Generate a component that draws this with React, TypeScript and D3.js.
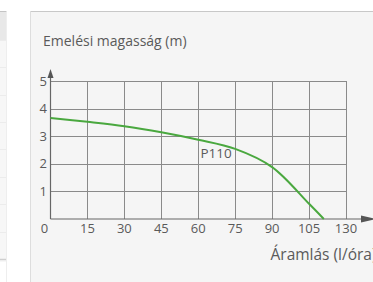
import React from "react";
import * as d3 from "d3";

const xTickValues = [0, 15, 30, 45, 60, 75, 90, 105, 120];
const xTickLabels = ["0", "15", "30", "45", "60", "75", "90", "105", "130"];
const yTickValues = [1, 2, 3, 4, 5];
const yTickLabels = ["1", "2", "3", "4", "5"];
const flow = [0, 15, 30, 45, 60, 75, 90, 105, 111];
const head = [3.66, 3.52, 3.36, 3.14, 2.87, 2.54, 1.88, 0.55, 0];
const seriesName = "P110";
const yTitle = "Emelési magasság (m)";
const xTitle = "Áramlás (l/óra)";
const stripRows = [40, 67, 95, 122, 149, 177, 204, 232];

const W = 373;
const H = 282;
const FONT = "'Open Sans', 'DejaVu Sans', sans-serif";

export default function App() {
  const x = d3.scaleLinear().domain([0, 120]).range([50.5, 346]);
  const y = d3.scaleLinear().domain([0, 5]).range([219, 81]);
  const pts = flow.map((f, i) => [f, head[i]] as [number, number]);
  const line = d3
    .line<[number, number]>()
    .x((d) => x(d[0]))
    .y((d) => y(d[1]))
    .curve(d3.curveCatmullRom.alpha(0.5));
  const gridColor = "#8a8a8a";
  const axisColor = "#666";
  const textColor = "#5a5a5a";
  const x0 = x(0);
  const y0 = y(0);
  return (
    <svg
      width={W}
      height={H}
      style={{ position: "absolute", left: 0, top: 0, display: "block" }}
    >
      <rect x={0} y={0} width={W} height={H} fill="#ffffff" />
      {/* left strip (background table) */}
      <rect x={0} y={12} width={6.5} height={250} fill="#f7f7f7" />
      <rect x={0} y={12} width={6.5} height={28} fill="#e8e8e8" />
      <line x1={0} x2={6.5} y1={11.5} y2={11.5} stroke="#c4c4c4" />
      {stripRows.map((r) => (
        <line key={r} x1={0} x2={6.5} y1={r + 0.5} y2={r + 0.5} stroke="#ececec" />
      ))}
      <line x1={0} x2={6.5} y1={259.5} y2={259.5} stroke="#cfcfcf" strokeWidth={1.5} />
      <line x1={6.5} x2={6.5} y1={12} y2={282} stroke="#eeeeee" />
      {/* panel */}
      <rect x={30} y={11} width={W} height={H} fill="#f5f5f5" />
      <line x1={30} x2={W} y1={11.5} y2={11.5} stroke="#c8c8c8" strokeWidth={1.2} />
      <line x1={30.5} x2={30.5} y1={11} y2={H} stroke="#dddddd" />
      {/* title */}
      <text x={43} y={46} fontFamily={FONT} fontSize={14} fill={textColor}>
        {yTitle}
      </text>
      {/* grid */}
      {xTickValues.slice(1).map((v) => (
        <line
          key={"gx" + v}
          x1={Math.round(x(v)) + 0.5}
          x2={Math.round(x(v)) + 0.5}
          y1={y(5)}
          y2={y0}
          stroke={gridColor}
          strokeWidth={1}
        />
      ))}
      {yTickValues.map((v) => (
        <line
          key={"gy" + v}
          x1={x0}
          x2={x(120)}
          y1={Math.round(y(v)) + 0.5}
          y2={Math.round(y(v)) + 0.5}
          stroke={gridColor}
          strokeWidth={1}
        />
      ))}
      {/* axes */}
      <line x1={x0} x2={x0} y1={y0} y2={76} stroke={axisColor} strokeWidth={1.2} />
      <path d={`M${x0},69 L${x0 - 3},78 L${x0 + 3},78 Z`} fill="#555" />
      <line x1={x0} x2={362} y1={y0} y2={y0} stroke={axisColor} strokeWidth={1.2} />
      <path d={`M376,${y0} L361,${y0 - 3.5} L361,${y0 + 3.5} Z`} fill="#555" />
      {/* curve */}
      <path d={line(pts) || ""} fill="none" stroke="#4aa83f" strokeWidth={2} />
      {/* tick labels */}
      {yTickValues.map((v, i) => (
        <text
          key={"ty" + v}
          x={47}
          y={y(v) + 4.6}
          textAnchor="end"
          fontFamily={FONT}
          fontSize={13}
          fill={textColor}
        >
          {yTickLabels[i]}
        </text>
      ))}
      {xTickValues.map((v, i) => (
        <text
          key={"tx" + v}
          x={i === 0 ? x(v) - 6 : x(v)}
          y={233}
          textAnchor="middle"
          fontFamily={FONT}
          fontSize={13}
          fill={textColor}
        >
          {xTickLabels[i]}
        </text>
      ))}
      {/* series label */}
      <text x={200.5} y={158.3} fontFamily={FONT} fontSize={13.5} fill={textColor}>
        {seriesName}
      </text>
      {/* x title */}
      <text x={270.5} y={259.5} fontFamily={FONT} fontSize={15.5} fill={textColor}>
        {xTitle}
      </text>
    </svg>
  );
}
